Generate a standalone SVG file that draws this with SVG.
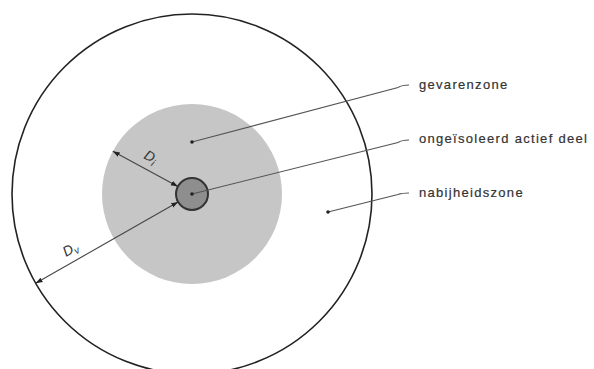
<svg xmlns="http://www.w3.org/2000/svg" width="594" height="369" viewBox="0 0 594 369">
<style>
.lbl{font-family:"Liberation Sans",Arial,sans-serif;font-size:13px;fill:#333;letter-spacing:1.3px;stroke:#333;stroke-width:0.2}
.dim{font-family:"Liberation Sans",Arial,sans-serif;font-size:14px;fill:#333;font-style:italic}
.lead{fill:none;stroke:#555;stroke-width:1.2}
.dl{fill:none;stroke:#444;stroke-width:1.1}
.dot{fill:#222}
</style>
<defs>
<marker id="ah" markerWidth="9" markerHeight="7" refX="7" refY="3" orient="auto-start-reverse" markerUnits="userSpaceOnUse">
<path d="M0,0.5 L7,3 L0,5.5 z" fill="#222"/>
</marker>
</defs>
<rect width="594" height="369" fill="#fff"/>
<g id="nabijheidszone-zone">
<circle cx="192" cy="194" r="180" fill="none" stroke="#222" stroke-width="1.6"/>
</g>
<g id="gevarenzone-zone">
<circle cx="192" cy="194" r="90" fill="#c6c6c6"/>
</g>
<g id="actief-deel">
<circle cx="192" cy="194" r="16" fill="#8e8e8e" stroke="#333" stroke-width="2"/>
</g>
<g id="connectors">
<line class="dl" x1="112.8" y1="151.3" x2="177.9" y2="186.4" marker-start="url(#ah)" marker-end="url(#ah)"/>
<line class="dl" x1="35.6" y1="283.3" x2="178.1" y2="201.9" marker-start="url(#ah)" marker-end="url(#ah)"/>
<path class="lead" d="M192,142 L398,87.5 Q402,85 409,85"/>
<path class="lead" d="M192,194 L398,142.5 Q402,140 409,140"/>
<path class="lead" d="M328,212 L398,194.5 Q402,193 409,193"/>
<circle class="dot" cx="192" cy="142" r="1.8"/>
<circle class="dot" cx="192" cy="194" r="1.8"/>
<circle class="dot" cx="328" cy="212" r="1.8"/>
</g>
<g id="label-di">
<text class="dim" transform="translate(143,158) rotate(28)">D<tspan font-size="10" dy="3">i</tspan></text>
</g>
<g id="label-dv">
<text class="dim" transform="translate(66,257) rotate(-30)">D<tspan font-size="10" dy="3">v</tspan></text>
</g>
<g id="label-gevarenzone">
<text class="lbl" x="419" y="89">gevarenzone</text>
</g>
<g id="label-ongeisoleerd">
<text class="lbl" x="419" y="143">ongeïsoleerd actief deel</text>
</g>
<g id="label-nabijheidszone">
<text class="lbl" x="419" y="197">nabijheidszone</text>
</g>
</svg>
